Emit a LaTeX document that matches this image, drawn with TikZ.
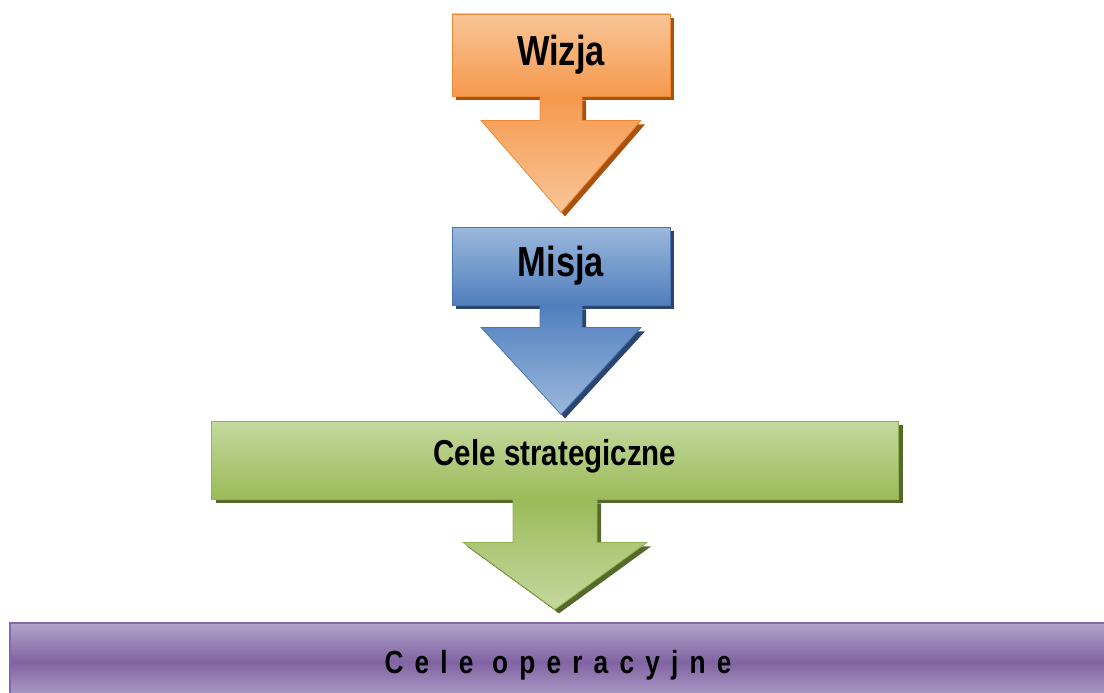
\documentclass[tikz,border=0pt]{standalone}
\usepackage{fontspec}
\newfontfamily\boxfont[FakeStretch=0.82]{Liberation Sans}
\newfontfamily\spacedfont[FakeStretch=0.82,LetterSpace=35]{Liberation Sans}
\usetikzlibrary{calc,shadows}
\definecolor{orangelight}{HTML}{F9C597}
\definecolor{orangedark}{HTML}{F5994D}
\definecolor{orangeline}{HTML}{EE8A36}
\definecolor{orangeshadow}{HTML}{A9520E}
\definecolor{bluelight}{HTML}{9CB8DC}
\definecolor{bluedark}{HTML}{4F7FBD}
\definecolor{blueline}{HTML}{4A77B0}
\definecolor{blueshadow}{HTML}{2A4670}
\definecolor{greenlight}{HTML}{C4D89E}
\definecolor{greendark}{HTML}{9BBB59}
\definecolor{greenline}{HTML}{93B252}
\definecolor{greenshadow}{HTML}{55692C}
\definecolor{purplelight}{HTML}{B2A3CA}
\definecolor{purpledark}{HTML}{8064A2}
\definecolor{purpleline}{HTML}{8467AB}

% arrow below a box: #1 box, #2 colour name, #3 half stem, #4 stem length, #5 half head, #6 head length
\newcommand{\downshape}[6]{
\fill [#2shadow] ($(#1.south)+(4-#3,4)$) -- ++(0,#4) -- ++(#3-#5,0) -- ++(#5,#6) -- ++(#5,-#6) -- ++(#3-#5,0) -- ++(0,-#4) -- cycle;
\shade [top color=#2dark, bottom color=#2light] ($(#1.south)+(-#3,-1)$) -- ++(0,#4+1) -- ++(#3-#5,0) -- ++(#5,#6) -- ++(#5,-#6) -- ++(#3-#5,0) -- ++(0,-#4-1) -- cycle;
\draw [#2line, line width=0.8pt] ($(#1.south)+(-#3,0)$) -- ++(0,#4) -- ++(#3-#5,0) -- ++(#5,#6) -- ++(#5,-#6) -- ++(#3-#5,0) -- ++(0,-#4);
}

\begin{document}
\begin{tikzpicture}[x=1pt,y=-1pt]
\useasboundingbox (0,0) rectangle (1104,693);
\tikzstyle{every node}+=[inner sep=0pt]
\tikzstyle{stage}=[draw, line width=0.8pt, minimum width=218pt, font=\boxfont\bfseries]
\tikzstyle{orangebox}=[stage, draw=orangeline, top color=orangelight, bottom color=orangedark, drop shadow={shadow xshift=4pt, shadow yshift=-4pt, opacity=1, fill=orangeshadow}]
\tikzstyle{bluebox}=[stage, draw=blueline, top color=bluelight, bottom color=bluedark, drop shadow={shadow xshift=4pt, shadow yshift=-4pt, opacity=1, fill=blueshadow}]
\tikzstyle{greenbox}=[stage, draw=greenline, top color=greenlight, bottom color=greendark, drop shadow={shadow xshift=4pt, shadow yshift=-4pt, opacity=1, fill=greenshadow}]
\tikzstyle{purplebar}=[draw=purpleline, line width=2pt, top color=purplelight, bottom color=purplelight, middle color=purpledark, font=\spacedfont\bfseries]

\node [orangebox, minimum height=82pt, font=\boxfont\bfseries\fontsize{42}{42}\selectfont] (wizja) at (561,55) {Wizja};
\downshape{wizja}{orange}{21}{24}{80}{92}

\node [bluebox, minimum height=78pt, font=\boxfont\bfseries\fontsize{42}{42}\selectfont] (misja) at (561,266) {Misja};
\downshape{misja}{blue}{21}{22}{80}{87}

\node [greenbox, minimum width=687pt, minimum height=78pt, text height=10pt, text depth=0pt, font=\boxfont\bfseries\fontsize{36}{36}\selectfont] (strategiczne) at (555,460) {Cele strategiczne};
\downshape{strategiczne}{green}{42}{43}{92}{67}

% bar runs off the page at the right and bottom
\node [purplebar, minimum width=1096pt, minimum height=78pt, text height=22pt, text depth=0pt, font=\spacedfont\bfseries\fontsize{32}{32}\selectfont] (operacyjne) at (558,662) {Cele operacyjne};
\end{tikzpicture}
\end{document}
